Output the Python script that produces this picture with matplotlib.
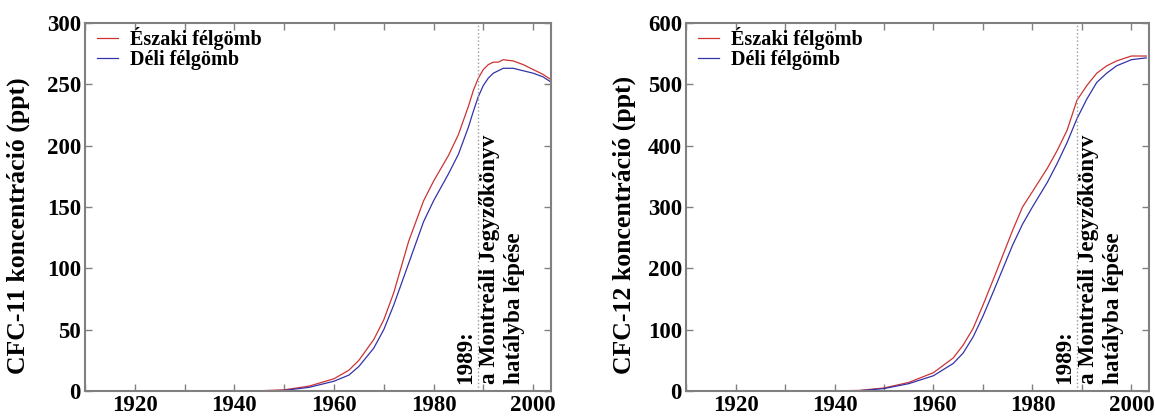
import numpy as np
import matplotlib.pyplot as plt
from matplotlib.ticker import MultipleLocator

# CFC-11 (ppt)
years_11 = [1930, 1940, 1945, 1950, 1955, 1960, 1963, 1965, 1968, 1970, 1972, 1975,
            1978, 1980, 1983, 1985, 1987, 1988, 1989, 1990, 1991, 1992, 1993, 1994,
            1996, 1998, 2000, 2002, 2003.5]
nh_11 = [0, 0, 0.2, 1, 4, 10, 17, 25, 42, 58, 80, 122,
         155, 171, 192, 209, 232, 245, 255, 262, 266, 268, 268, 270,
         269, 266, 262, 258, 254]
sh_11 = [0, 0, 0, 0.5, 3, 8, 13, 20, 35, 50, 70, 104,
         138, 155, 177, 193, 215, 228, 240, 249, 255, 259, 261, 263,
         263, 261, 259, 256, 252]

# CFC-12 (ppt)
years_12 = [1930, 1940, 1945, 1950, 1955, 1960, 1964, 1966, 1968, 1970, 1972, 1976,
            1978, 1980, 1983, 1985, 1987, 1989, 1991, 1993, 1995, 1997, 2000, 2003]
nh_12 = [0, 0.2, 1, 5, 14, 30, 54, 75, 102, 140, 180, 262,
         300, 325, 363, 392, 425, 474, 498, 518, 530, 538, 546, 546]
sh_12 = [0, 0, 0.5, 4, 12, 25, 45, 62, 88, 122, 160, 238,
         272, 300, 340, 371, 405, 444, 476, 503, 518, 530, 540, 543]

labels = ["Északi félgömb", "Déli félgömb"]
note = "1989:\na Montreáli Jegyzőkönyv\nhatályba lépése"

plt.rcParams['font.family'] = ['Liberation Serif', 'DejaVu Serif']
plt.rcParams['font.weight'] = 'bold'

fig = plt.figure(figsize=(11.55, 4.16), dpi=100)
ax1 = fig.add_axes([0.0736, 0.060, 0.4035, 0.885])
ax2 = fig.add_axes([0.594, 0.060, 0.401, 0.885])

spine_col = '#808080'


def draw(ax, years, nh, sh, ymax, ystep, ylabel, note_y):
    ax.plot(years, nh, color='#cc3333', lw=0.9, label=labels[0])
    ax.plot(years, sh, color='#3333aa', lw=0.9, label=labels[1])
    ax.axvline(1989, color='#999999', ls=':', lw=1.0)
    ax.set_xlim(1910, 2003.6)
    ax.set_ylim(0, ymax)
    ax.xaxis.set_major_locator(MultipleLocator(20))
    ax.xaxis.set_minor_locator(MultipleLocator(10))
    ax.yaxis.set_major_locator(MultipleLocator(ystep))
    ax.tick_params(which='both', direction='in', top=True, right=True,
                   color=spine_col, labelsize=16.5, width=1.0)
    ax.tick_params(which='major', length=5, pad=3)
    ax.tick_params(which='minor', length=5)
    for s in ax.spines.values():
        s.set_color(spine_col)
        s.set_linewidth(1.5)
    for t in ax.get_xticklabels() + ax.get_yticklabels():
        t.set_fontweight('bold')
    ax.set_ylabel(ylabel, fontsize=18.5, fontweight='bold')
    ax.text(1984.3, note_y, note, rotation=90, rotation_mode='anchor',
            ha='left', va='top', multialignment='left',
            fontsize=16.7, fontweight='bold', linespacing=1.22)
    ax.legend(loc='upper left', frameon=False, handlelength=1.0,
              handletextpad=0.6, labelspacing=0.0, borderaxespad=0.1,
              bbox_to_anchor=(0.005, 1.015), prop={'weight': 'bold', 'size': 14.5})


draw(ax1, years_11, nh_11, sh_11, 300, 50, "CFC-11 koncentráció (ppt)", 6)
draw(ax2, years_12, nh_12, sh_12, 600, 100, "CFC-12 koncentráció (ppt)", 12)
ax1.yaxis.set_label_coords(-0.118, 0.45)
ax2.yaxis.set_label_coords(-0.108, 0.45)

fig.savefig("out.png", dpi=100)
